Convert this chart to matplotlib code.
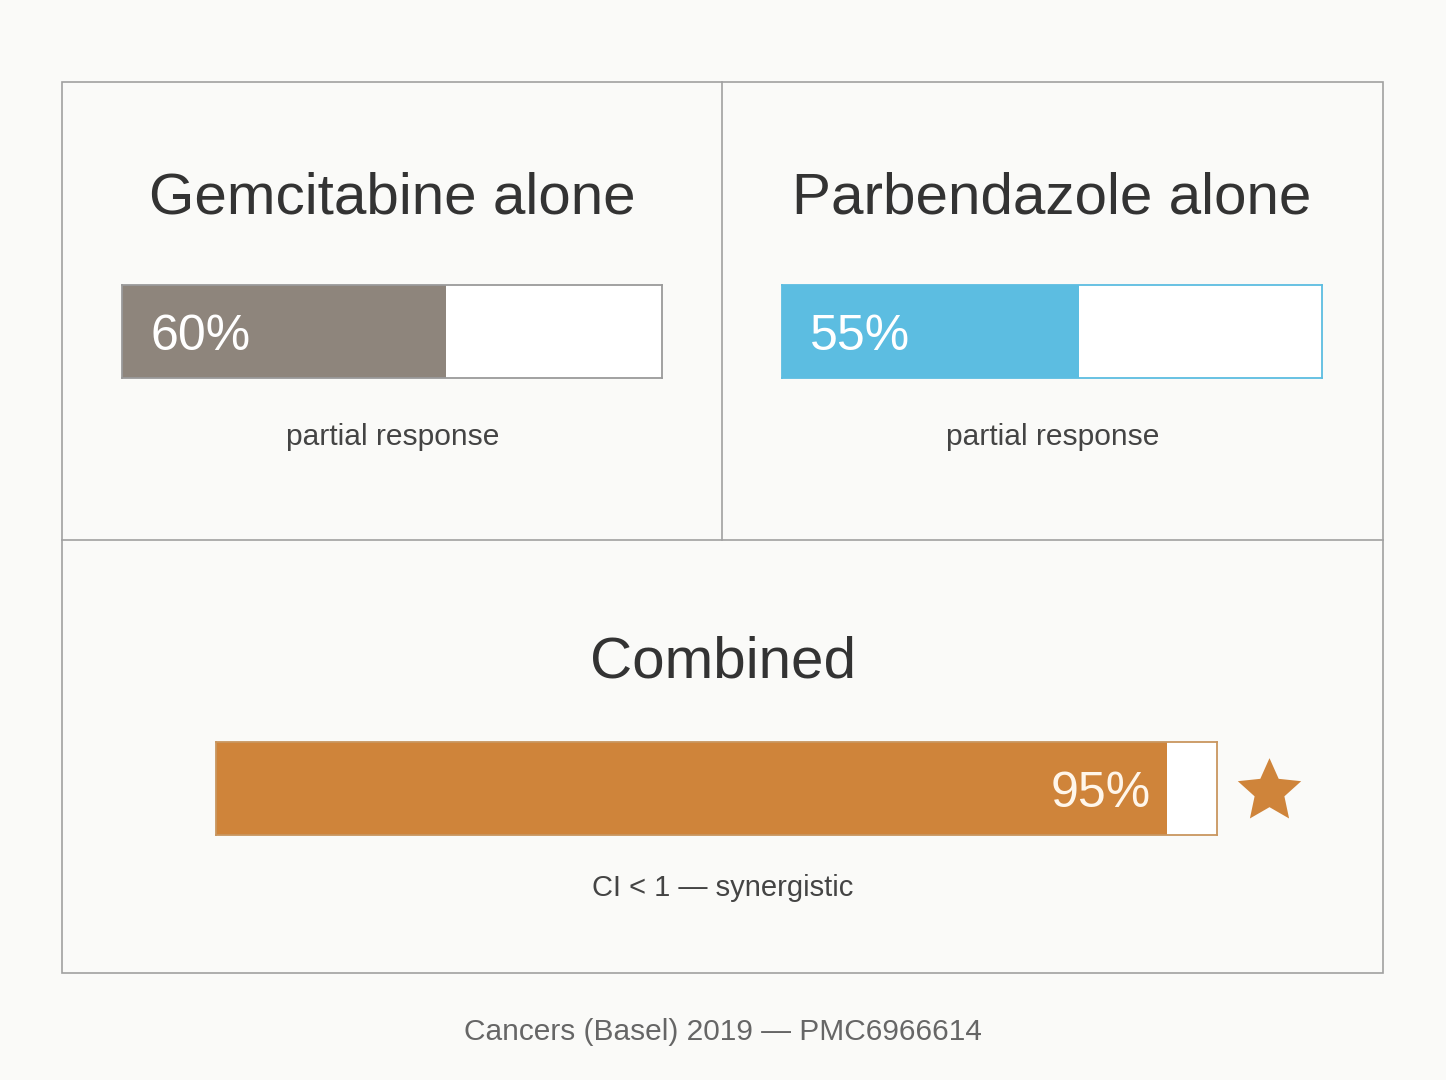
import matplotlib
matplotlib.use("Agg")
import numpy as np
import matplotlib.pyplot as plt
from matplotlib.patches import Rectangle

# ---- data ----
categories = ["Gemcitabine alone", "Parbendazole alone", "Combined"]
values = [60, 55, 95]
value_labels = ["60%", "55%", "95%"]
notes = ["partial response", "partial response", "CI < 1 \u2014 synergistic"]
source = "Cancers (Basel) 2019 \u2014 PMC6966614"

# ---- styles ----
fills = ["#8E857C", "#5CBDE1", "#CF843A"]
edges = ["#9A9A9A", "#5CBDE1", "#C9965F"]
BG = "#FAFAF8"
W, H = 1446, 1080
plt.rcParams['font.family'] = ['Liberation Sans', 'DejaVu Sans']

fig = plt.figure(figsize=(W / 100, H / 100), dpi=100, facecolor=BG)
base = fig.add_axes([0, 0, 1, 1])
base.set_xlim(0, W)
base.set_ylim(H, 0)
base.axis("off")
base.set_facecolor(BG)

line_c = "#A0A0A0"
lw = 1.2
# panel frames
base.add_patch(Rectangle((62, 82), 1321, 891, fill=False, ec=line_c, lw=lw))
base.plot([722, 722], [82, 540], color=line_c, lw=lw)
base.plot([62, 1383], [540, 540], color=line_c, lw=lw)

# layout per panel: (bar left, bar right, bar top, bar bottom, title x, title y, note y)
layout = [
    (122, 662, 285, 378, 392, 199, 437),
    (782, 1322, 285, 378, 1052, 199, 437),
    (216, 1217, 742, 835, 723, 663, 888),
]

def to_fig(x0, x1, y0, y1):
    return [x0 / W, 1 - y1 / H, (x1 - x0) / W, (y1 - y0) / H]

# fatter five-pointed star marker
ang = np.pi / 2 + np.arange(10) * np.pi / 5
rad = np.where(np.arange(10) % 2 == 0, 1.0, 0.47)
star = np.column_stack([rad * np.cos(ang), rad * np.sin(ang)])
star = np.vstack([star, star[:1]])

for i, (cat, val, lab, note) in enumerate(zip(categories, values, value_labels, notes)):
    x0, x1, y0, y1, tx, ty, ny = layout[i]
    base.text(tx, ty, cat, ha="center", va="center", fontsize=42, color="#333333")
    base.text(tx + (1 if i < 2 else 0), ny, note, ha="center", va="center",
              fontsize=21.6 if i < 2 else 21, color="#444444")
    ax = fig.add_axes(to_fig(x0, x1, y0, y1))
    ax.set_facecolor("white")
    ax.barh([0], [val], height=1.0, color=fills[i], edgecolor="none")
    ax.set_xlim(0, 100)
    ax.set_ylim(-0.5, 0.5)
    ax.set_xticks([])
    ax.set_yticks([])
    for s in ax.spines.values():
        s.set_color(edges[i])
        s.set_linewidth(1.3)
    if i < 2:
        ax.text(5.2, -0.06, lab, ha="left", va="center", fontsize=36, color="white")
    else:
        ax.text(val - 1.6, -0.06, lab, ha="right", va="center", fontsize=36, color="#FFF6EA")
        base.plot([1269], [791], marker=star, markersize=48, color=fills[i], mec=fills[i], mew=0)

base.text(723, 1032, source, ha="center", va="center", fontsize=21.5, color="#666666")

fig.savefig("out.png", dpi=100, facecolor=BG)
